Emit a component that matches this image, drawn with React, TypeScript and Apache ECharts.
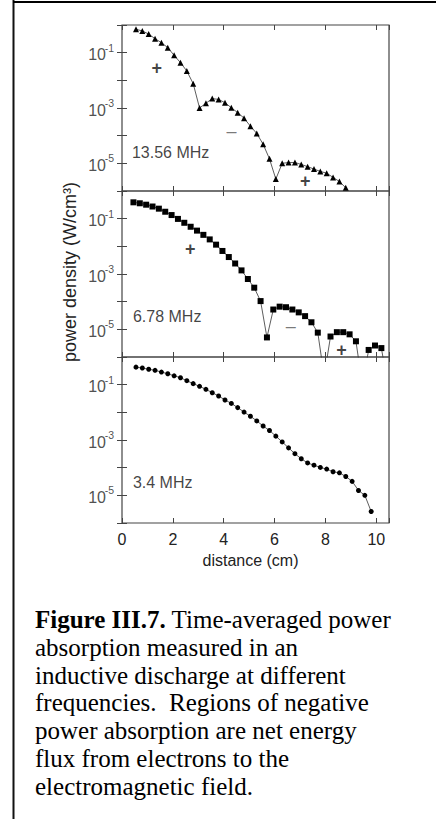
import React, { useEffect, useRef } from 'react';
import * as echarts from 'echarts';

// ---------- data ----------
const xTicks = [0, 2, 4, 6, 8, 10];
const yLabelValues = [1e-1, 1e-3, 1e-5];
const yLabelExponents = ['-1', '-3', '-5'];

// 13.56 MHz (triangles)
const x1356 = [0.55, 0.8, 1.05, 1.3, 1.55, 1.8, 2.05, 2.3, 2.55, 2.8, 3.05, 3.3, 3.55, 3.8, 4.05, 4.3, 4.55, 4.8, 5.05, 5.3, 5.55, 5.8, 6.05, 6.3, 6.55, 6.8, 7.05, 7.3, 7.55, 7.8, 8.05, 8.3, 8.55, 8.8];
const p1356 = [0.70, 0.61, 0.47, 0.32, 0.23, 0.152, 0.080, 0.0435, 0.0217, 0.0076, 0.0010, 0.00148, 0.00219, 0.00204, 0.00155, 0.00102, 6.8e-4, 4.3e-4, 2.2e-4, 1.2e-4, 4.9e-5, 1.45e-5, 2.7e-6, 1.0e-5, 1.07e-5, 1.07e-5, 9.1e-6, 7.6e-6, 6.2e-6, 5.1e-6, 4.4e-6, 3.1e-6, 2.2e-6, 1.3e-6];

// 6.78 MHz (squares)
const x678 = [0.45, 0.7, 0.95, 1.2, 1.45, 1.7, 1.95, 2.2, 2.45, 2.7, 2.95, 3.2, 3.45, 3.7, 3.95, 4.2, 4.45, 4.7, 4.95, 5.2, 5.45, 5.7, 5.95, 6.2, 6.45, 6.7, 6.95, 7.2, 7.45, 7.7, 7.95, 8.2, 8.45, 8.7, 8.95, 9.2, 9.45, 9.7, 9.95, 10.2, 10.45];
const p678 = [0.39, 0.36, 0.32, 0.275, 0.23, 0.178, 0.135, 0.098, 0.071, 0.051, 0.037, 0.026, 0.0178, 0.0115, 0.0068, 0.0041, 0.0024, 0.00135, 6.6e-4, 3.2e-4, 1.05e-4, 5.1e-6, 5.2e-5, 6.6e-5, 6.3e-5, 5.2e-5, 4.1e-5, 3.0e-5, 1.8e-5, 7.6e-6, 2e-7, 5.5e-6, 7.9e-6, 7.9e-6, 6.6e-6, 3.7e-6, 1e-7, 1.8e-6, 2.6e-6, 2.1e-6, 1e-7];

// 3.4 MHz (circles)
const x34 = [0.55, 0.8, 1.05, 1.3, 1.55, 1.8, 2.05, 2.3, 2.55, 2.8, 3.05, 3.3, 3.55, 3.8, 4.05, 4.3, 4.55, 4.8, 5.05, 5.3, 5.55, 5.8, 6.05, 6.3, 6.55, 6.8, 7.05, 7.3, 7.55, 7.8, 8.05, 8.3, 8.55, 8.8, 9.05, 9.3, 9.55, 9.8];
const p34 = [0.43, 0.40, 0.36, 0.33, 0.285, 0.248, 0.209, 0.178, 0.139, 0.109, 0.087, 0.068, 0.051, 0.039, 0.028, 0.021, 0.0148, 0.0102, 0.0072, 0.0049, 0.0032, 0.0022, 0.00138, 8.5e-4, 5.2e-4, 3.2e-4, 2.1e-4, 1.48e-4, 1.23e-4, 1.02e-4, 8.9e-5, 7.1e-5, 6.5e-5, 4.8e-5, 3.2e-5, 1.5e-5, 1.0e-5, 2.6e-6];

// annotations (data coordinates)
const notes1356 = [
  { x: 0.39, y: 2.5e-5, text: '13.56 MHz', left: true },
  { x: 1.37, y: 0.027, text: '+' },
  { x: 4.31, y: 1.5e-4, text: '–' },
  { x: 7.21, y: 2.3e-6, text: '+' },
];
const notes678 = [
  { x: 0.43, y: 2.8e-5, text: '6.78 MHz', left: true },
  { x: 2.68, y: 7.8e-3, text: '+' },
  { x: 6.64, y: 1.35e-5, text: '–' },
  { x: 8.63, y: 1.8e-6, text: '+' },
];
const notes34 = [{ x: 0.43, y: 3.0e-5, text: '3.4 MHz', left: true }];

const captionLines = [
  '{b|Figure III.7.} Time-averaged power',
  'absorption measured in an',
  'inductive discharge at different',
  'frequencies.  Regions of negative',
  'power absorption are net energy',
  'flux from electrons to the',
  'electromagnetic field.',
];

const SANS = "'Liberation Sans', Arial, sans-serif";
const SERIF = "'Liberation Serif', 'Times New Roman', serif";
const AX = '#444';

export default function App() {
  const ref = useRef<HTMLDivElement>(null);
  useEffect(() => {
    if (!ref.current) return;
    const chart = echarts.init(ref.current, undefined, { renderer: 'svg' });
    const tops = [25, 191, 357];
    const grids = tops.map((t) => ({
      left: 122, top: t, width: 267, height: 166,
      show: true, borderColor: AX, borderWidth: 1.2, backgroundColor: 'transparent',
    }));
    const xAxes: any[] = [];
    const yAxes: any[] = [];
    tops.forEach((_, gi) => {
      xAxes.push({
        type: 'value', gridIndex: gi, position: 'bottom', min: 0, max: 10.5, interval: 2,
        axisLine: { show: false },
        axisTick: { show: true, inside: true, length: 5, lineStyle: { color: AX, width: 1 } },
        axisLabel: gi === 2 ? {
          show: true, fontSize: 16, fontFamily: SANS, color: '#222', margin: 8,
          formatter: (v: number) => (xTicks.includes(v) ? String(v) : ''),
        } : { show: false },
        splitLine: { show: false },
        name: gi === 2 ? 'distance (cm)' : '',
        nameLocation: 'middle', nameGap: 29,
        nameTextStyle: { fontSize: 16, fontFamily: SANS, color: '#222', padding: [0, 10, 0, 0] },
      });
    });
    tops.forEach((_, gi) => {
      xAxes.push({
        type: 'value', gridIndex: gi, position: 'top', min: 0, max: 10.5, interval: 2,
        axisLine: { show: false },
        axisTick: { show: true, inside: true, length: 5, lineStyle: { color: AX, width: 1 } },
        axisLabel: { show: false }, splitLine: { show: false },
      });
    });
    ['left', 'right'].forEach((pos) => {
      tops.forEach((_, gi) => {
        yAxes.push({
          type: 'log', logBase: 10, gridIndex: gi, position: pos, min: 1e-6, max: 1, interval: 1,
          axisLine: { show: false },
          axisTick: { show: true, inside: true, length: 5, lineStyle: { color: AX, width: 1 } },
          axisLabel: { show: false }, splitLine: { show: false },
        });
      });
    });

    const zip = (xs: number[], ys: number[]) => xs.map((x, i) => [x, ys[i]]);
    const lineSeries = (gi: number, xs: number[], ys: number[], symbol: string, size: number) => ({
      type: 'line', xAxisIndex: gi, yAxisIndex: gi, data: zip(xs, ys),
      symbol, symbolSize: size, showSymbol: true, clip: true,
      lineStyle: { color: '#333', width: 0.8 }, itemStyle: { color: '#000' },
      z: 3,
    });
    const noteSeries = (gi: number, notes: any[]) => ({
      type: 'scatter', xAxisIndex: gi, yAxisIndex: gi, symbolSize: 0,
      itemStyle: { color: 'transparent' }, silent: true, clip: false,
      data: notes.map((n) => ({
        name: n.text, value: [n.x, n.y],
        label: {
          show: true, position: 'inside', formatter: '{b}',
          align: n.left ? 'left' : 'center', verticalAlign: 'middle',
          fontSize: n.left ? 16 : 18, fontFamily: SANS,
          color: n.text === '–' ? '#555' : '#111',
          fontWeight: n.text === '+' ? 'bold' : 'normal',
        },
      })),
      z: 4,
    });
    // y tick labels "10" + superscript exponent, anchored at the axis (x = 0)
    const yBaseSeries = (gi: number) => ({
      type: 'scatter', xAxisIndex: gi, yAxisIndex: gi, symbolSize: 0,
      itemStyle: { color: 'transparent' }, silent: true, clip: false,
      data: yLabelValues.map((v) => ({ value: [0, v], name: '10' })),
      label: {
        show: true, position: 'left', distance: 16, offset: [0, 2], formatter: '{b}',
        fontSize: 16, fontFamily: SANS, color: '#222',
      },
      z: 4,
    });
    const yExpSeries = (gi: number) => ({
      type: 'scatter', xAxisIndex: gi, yAxisIndex: gi, symbolSize: 0,
      itemStyle: { color: 'transparent' }, silent: true, clip: false,
      data: yLabelValues.map((v, i) => ({ value: [0, v], name: yLabelExponents[i] })),
      label: {
        show: true, position: 'left', distance: 8, offset: [0, -5], formatter: '{b}',
        fontSize: 10.5, fontFamily: SANS, color: '#222',
      },
      z: 4,
    });

    chart.setOption({
      animation: false,
      backgroundColor: '#fff',
      grid: grids,
      xAxis: xAxes,
      yAxis: yAxes,
      series: [
        lineSeries(0, x1356, p1356, 'triangle', 6),
        lineSeries(1, x678, p678, 'rect', 6),
        lineSeries(2, x34, p34, 'circle', 5),
        noteSeries(0, notes1356),
        noteSeries(1, notes678),
        noteSeries(2, notes34),
        yBaseSeries(0), yBaseSeries(1), yBaseSeries(2),
        yExpSeries(0), yExpSeries(1), yExpSeries(2),
      ],
      graphic: [
        { type: 'line', shape: { x1: 13.5, y1: 0, x2: 13.5, y2: 819 }, style: { stroke: '#111', lineWidth: 2 } },
        { type: 'line', shape: { x1: 13, y1: 2, x2: 436, y2: 2 }, style: { stroke: '#000', lineWidth: 2 } },
        {
          type: 'text', x: 70, y: 272, rotation: Math.PI / 2,
          style: {
            text: 'power density (W/cm³)', fontSize: 18, fontFamily: SANS, fill: '#222',
            align: 'center', verticalAlign: 'middle',
          },
        },
        {
          type: 'text', x: 35, y: 606,
          style: {
            text: captionLines.join('\n'), fontSize: 25, fontFamily: SERIF, fill: '#000',
            lineHeight: 27.7, align: 'left', verticalAlign: 'top',
            rich: { b: { fontSize: 25, fontFamily: SERIF, fontWeight: 'bold', fill: '#000', lineHeight: 27.7 } },
          },
        },
      ],
    });
    return () => chart.dispose();
  }, []);
  return <div ref={ref} style={{ position: 'absolute', left: 0, top: 0, width: 436, height: 819 }} />;
}
